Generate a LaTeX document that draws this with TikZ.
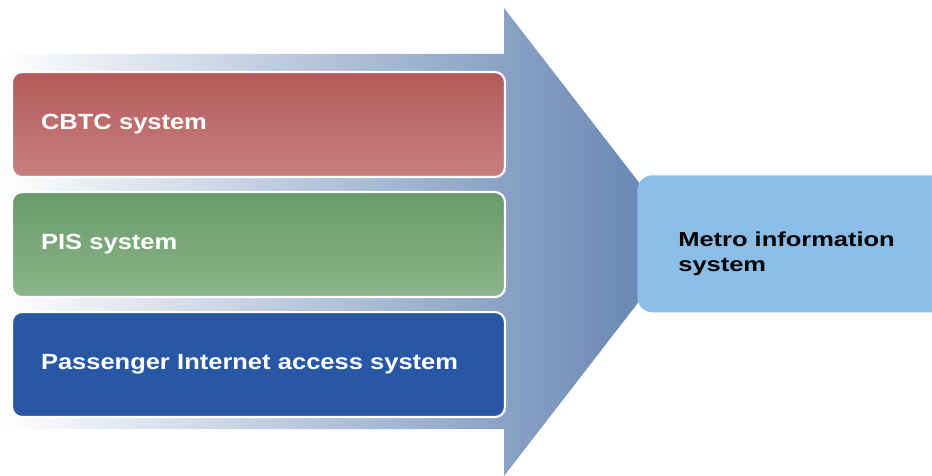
\documentclass[tikz,border=0pt]{standalone}
\usepackage{fontspec}
\setmainfont{Liberation Sans}
\newfontfamily\sysfont[FakeStretch=1.16]{Liberation Sans}
\newfontfamily\metrofont[FakeStretch=1.26]{Liberation Sans}
\definecolor{arrowdark}{HTML}{6080B0}
\definecolor{cbtctop}{HTML}{B45A5A}
\definecolor{cbtcbot}{HTML}{C87F7F}
\definecolor{pistop}{HTML}{699A69}
\definecolor{pisbot}{HTML}{8AB58A}
\definecolor{netblue}{HTML}{2857A6}
\definecolor{metroblue}{HTML}{8BBDE6}

\begin{document}
\begin{tikzpicture}[x=0.02cm,y=-0.02cm,
  sysbox/.style={anchor=north west,rounded corners=0.2cm,draw=white,line width=1.2pt,
    minimum width=9.86cm,minimum height=2.1cm,inner xsep=0.58cm,text width=8.7cm,
    align=left,text=white,font=\sysfont\bfseries\fontsize{12.5}{15}\selectfont},
  metrobox/.style={anchor=north west,rounded corners=0.3cm,fill=metroblue,
    minimum width=6.2cm,minimum height=2.74cm},
  metrotext/.style={anchor=west,inner sep=0pt,align=left,
    font=\metrofont\bfseries\fontsize{11.5}{14.2}\selectfont}]
\useasboundingbox (0,0) rectangle (932,476);
\shade[left color=white,right color=arrowdark] (0,54) -- (504,54) -- (504,8) -- (685,242) -- (504,476) -- (504,429) -- (0,429) -- cycle;
\node[sysbox,top color=cbtctop,bottom color=cbtcbot] (cbtc) at (11,71) {CBTC system};
\node[sysbox,top color=pistop,bottom color=pisbot] (pis) at (11,191) {PIS system};
\node[sysbox,fill=netblue] (internet) at (11,311) {Passenger Internet access system};
\node[metrobox] (metro) at (637,175) {};
\node[metrotext] (metrolabel) at (678,254) {Metro information\\system};
\end{tikzpicture}
\end{document}
